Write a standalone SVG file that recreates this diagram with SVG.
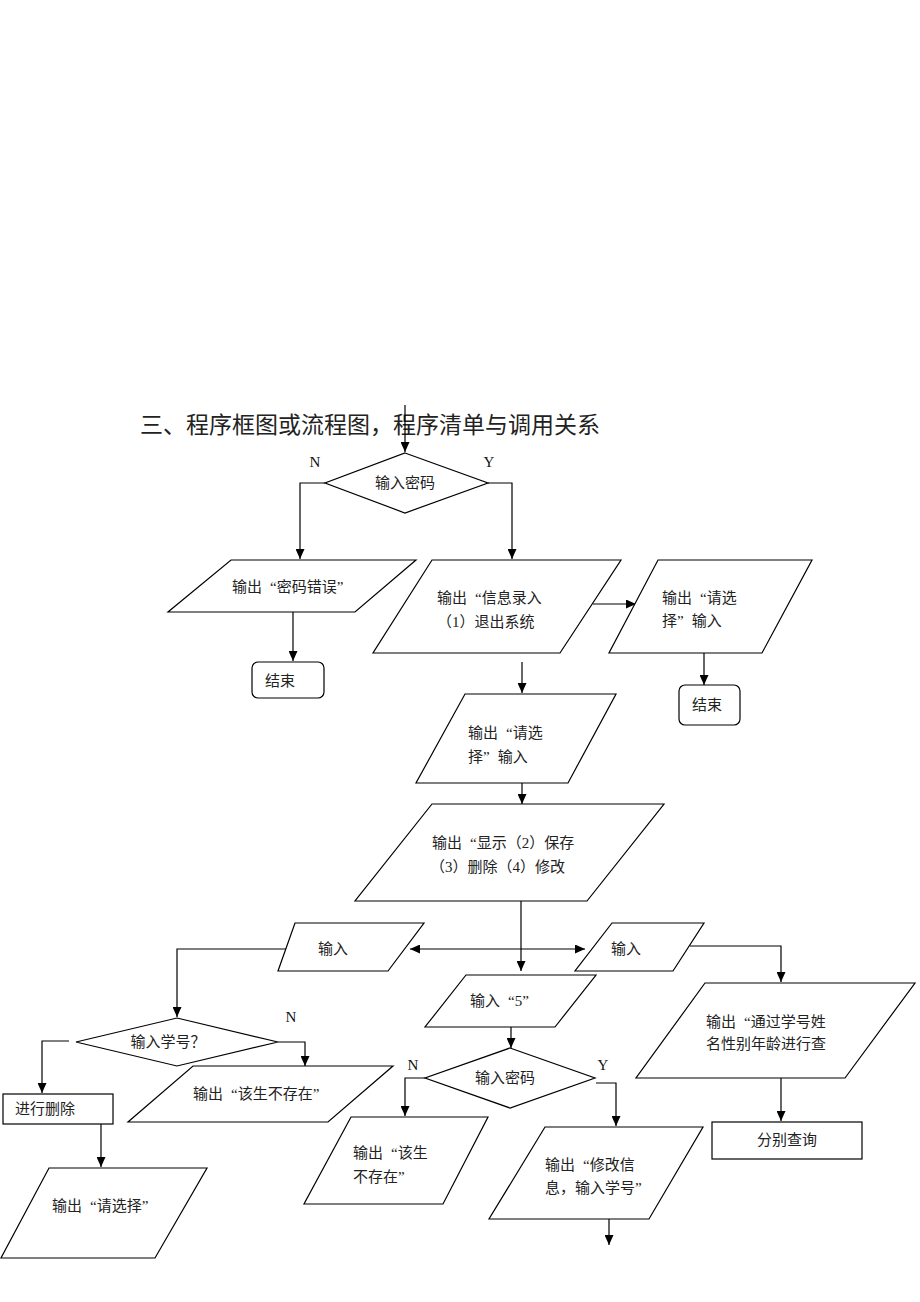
<svg xmlns="http://www.w3.org/2000/svg" width="920" height="1302" viewBox="0 0 920 1302">
<style>
.s{fill:#fff;stroke:#000;stroke-width:1.2}
.t{font-family:"Liberation Serif","Noto Sans CJK SC",serif;font-size:15px;fill:#222}
.m{text-anchor:middle}
.lb{font-family:"Liberation Serif",serif;font-size:15px;fill:#111}
.c{fill:none;stroke:#000;stroke-width:1.2}
</style>
<defs>
<marker id="ah" markerUnits="userSpaceOnUse" markerWidth="10" markerHeight="9" refX="10" refY="4.5" orient="auto-start-reverse">
<path d="M0,0 L10,4.5 L0,9 z" fill="#000"/>
</marker>
</defs>
<rect width="920" height="1302" fill="#fff"/>
<text id="title" x="140" y="433" font-family="Noto Sans CJK SC,sans-serif" font-size="23" fill="#222">三、程序框图或流程图，程序清单与调用关系</text>

<g id="connectors">
<path class="c" d="M405,405 V452" marker-end="url(#ah)"/>
<path class="c" d="M325,483 H300 V559" marker-end="url(#ah)"/>
<path class="c" d="M488,483 H512 V559" marker-end="url(#ah)"/>
<path class="c" d="M293,612 V661" marker-end="url(#ah)"/>
<path class="c" d="M593,604 H636" marker-end="url(#ah)"/>
<path class="c" d="M704,653 V685" marker-end="url(#ah)"/>
<path class="c" d="M522,662 V693" marker-end="url(#ah)"/>
<path class="c" d="M522,783 V804" marker-end="url(#ah)"/>
<path class="c" d="M521,901 V971" marker-end="url(#ah)"/>
<path class="c" d="M410,949 H585" marker-start="url(#ah)" marker-end="url(#ah)"/>
<path class="c" d="M293,949 H177 V1017" marker-end="url(#ah)"/>
<path class="c" d="M690,946 H781 V982" marker-end="url(#ah)"/>
<path class="c" d="M781,1078 V1121" marker-end="url(#ah)"/>
<path class="c" d="M69,1041 H42 V1093" marker-end="url(#ah)"/>
<path class="c" d="M278,1042 H305 V1066" marker-end="url(#ah)"/>
<path class="c" d="M101,1124 V1167" marker-end="url(#ah)"/>
<path class="c" d="M511,1027 V1048" marker-end="url(#ah)"/>
<path class="c" d="M425,1078 H405 V1116" marker-end="url(#ah)"/>
<path class="c" d="M596,1083 H616 V1126" marker-end="url(#ah)"/>
<path class="c" d="M609,1219 V1245" marker-end="url(#ah)"/>
</g>

<g id="labels">
<text class="lb m" x="315" y="467">N</text>
<text class="lb m" x="489" y="467">Y</text>
<text class="lb m" x="291" y="1022">N</text>
<text class="lb m" x="413" y="1070">N</text>
<text class="lb m" x="603" y="1070">Y</text>
</g>

<g id="d-pwd1">
<polygon class="s" points="405,453 488,483 405,513 325,483"/>
<text class="t m" x="405" y="488">输入密码</text>
</g>

<g id="p-pwderr">
<polygon class="s" points="231,560 416,560 355,612 168,612"/>
<text class="t" x="232" y="592">输出<tspan dx="8">“</tspan>密码错误”</text>
</g>

<g id="end1">
<rect class="s" x="252" y="662" width="72" height="36" rx="6"/>
<text class="t" x="265" y="686">结束</text>
</g>

<g id="p-menu1">
<polygon class="s" points="432,560 621,560 560,653 373,653"/>
<text class="t" x="437" y="603">输出<tspan dx="8">“</tspan>信息录入</text>
<text class="t" x="437" y="627">（1）退出系统</text>
</g>

<g id="p-choose1">
<polygon class="s" points="658,560 812,560 762,653 609,653"/>
<text class="t" x="662" y="603">输出<tspan dx="8">“</tspan>请选</text>
<text class="t" x="662" y="626">择”<tspan dx="8">输入</tspan></text>
</g>

<g id="end2">
<rect class="s" x="679" y="685" width="61" height="40" rx="6"/>
<text class="t" x="692" y="710">结束</text>
</g>

<g id="p-choose2">
<polygon class="s" points="465,694 616,694 568,783 416,783"/>
<text class="t" x="468" y="738">输出<tspan dx="8">“</tspan>请选</text>
<text class="t" x="468" y="762">择”<tspan dx="8">输入</tspan></text>
</g>

<g id="p-menu2">
<polygon class="s" points="432,804 664,804 587,901 355,901"/>
<text class="t" x="432" y="848">输出<tspan dx="8">“</tspan>显示（2）保存</text>
<text class="t" x="430" y="872">（3）删除（4）修改</text>
</g>

<g id="p-input-left">
<polygon class="s" points="295,923 424,923 388,971 278,971"/>
<text class="t m" x="333" y="954">输入</text>
</g>

<g id="p-input-right">
<polygon class="s" points="612,923 704,923 673,971 575,971"/>
<text class="t m" x="626" y="954">输入</text>
</g>

<g id="p-input5">
<polygon class="s" points="466,975 596,975 555,1027 425,1027"/>
<text class="t" x="470" y="1006">输入<tspan dx="8">“</tspan>5”</text>
</g>

<g id="p-query">
<polygon class="s" points="705,983 915,983 845,1078 636,1078"/>
<text class="t" x="706" y="1027">输出<tspan dx="8">“</tspan>通过学号姓</text>
<text class="t" x="706" y="1049">名性别年龄进行查</text>
</g>

<g id="r-query">
<rect class="s" x="712" y="1122" width="150" height="37"/>
<text class="t m" x="787" y="1145">分别查询</text>
</g>

<g id="d-id">
<polygon class="s" points="177,1018 278,1042 177,1066 76,1042"/>
<text class="t m" x="168" y="1047">输入学号？</text>
</g>

<g id="r-delete">
<rect class="s" x="3" y="1094" width="110" height="30"/>
<text class="t" x="15" y="1114">进行删除</text>
</g>

<g id="p-notexist1">
<polygon class="s" points="193,1066 393,1066 328,1122 128,1122"/>
<text class="t" x="193" y="1099">输出<tspan dx="8">“</tspan>该生不存在”</text>
</g>

<g id="p-choose3">
<polygon class="s" points="49,1168 207,1168 155,1258 1,1258"/>
<text class="t" x="52" y="1211">输出<tspan dx="8">“</tspan>请选择”</text>
</g>

<g id="d-pwd2">
<polygon class="s" points="510,1048 595,1078 510,1108 425,1078"/>
<text class="t m" x="505" y="1083">输入密码</text>
</g>

<g id="p-notexist2">
<polygon class="s" points="351,1117 488,1117 443,1204 304,1204"/>
<text class="t" x="353" y="1158">输出<tspan dx="8">“</tspan>该生</text>
<text class="t" x="353" y="1182">不存在”</text>
</g>

<g id="p-modify">
<polygon class="s" points="545,1127 703,1127 649,1219 489,1219"/>
<text class="t" x="545" y="1170">输出<tspan dx="8">“</tspan>修改信</text>
<text class="t" x="545" y="1193">息，输入学号”</text>
</g>
</svg>
